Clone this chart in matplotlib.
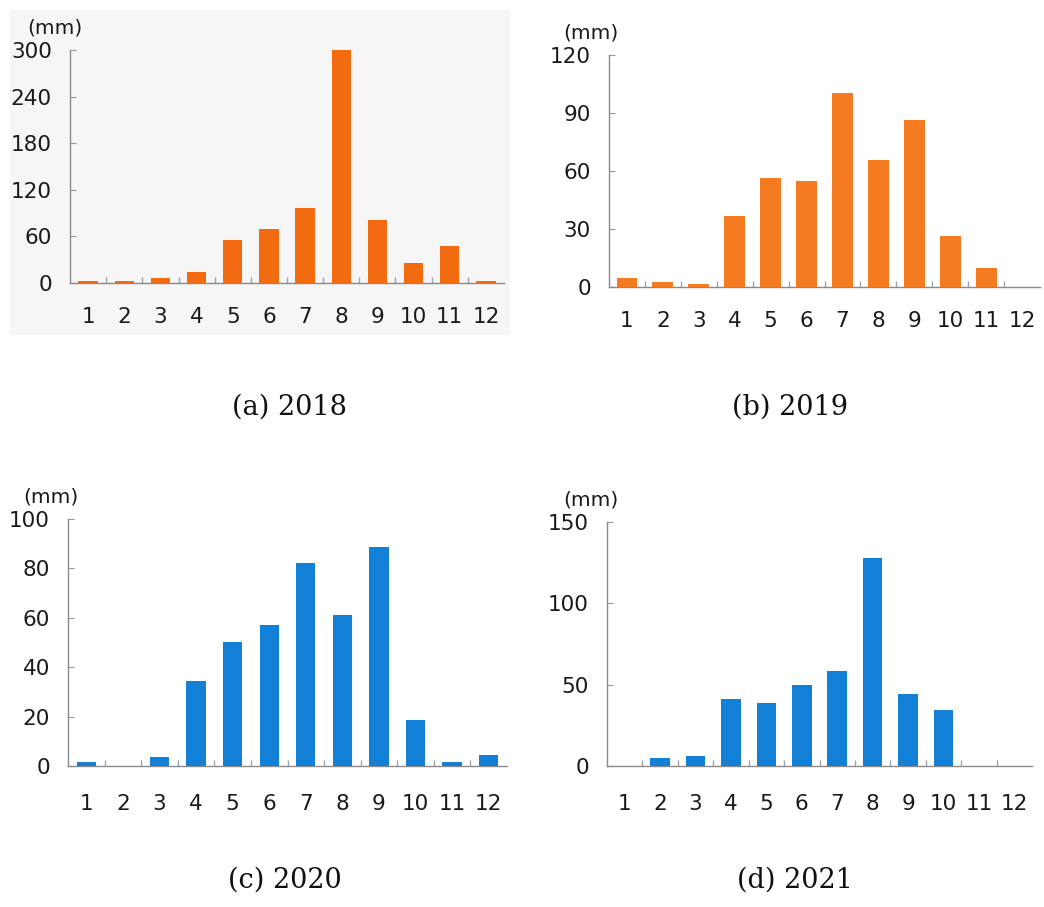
import matplotlib
matplotlib.use("Agg")
import matplotlib.pyplot as plt
from matplotlib.patches import Rectangle
import numpy as np

months = ["1", "2", "3", "4", "5", "6", "7", "8", "9", "10", "11", "12"]
rain_2018 = [3, 3, 7, 14, 55, 69, 97, 300, 81, 26, 47, 3]
rain_2019 = [4.7, 2.4, 1.5, 36.6, 56.5, 55, 100.5, 65.6, 86.3, 26.4, 9.8, 0]
rain_2020 = [1.5, 0, 3.5, 34.5, 50.4, 57, 82.3, 61.2, 88.5, 18.8, 1.5, 4.6]
rain_2021 = [0, 5.1, 5.9, 41.2, 38.7, 49.6, 58.2, 128, 44, 34.2, 0, 0]

yticks_a = [0, 60, 120, 180, 240, 300]
yticks_b = [0, 30, 60, 90, 120]
yticks_c = [0, 20, 40, 60, 80, 100]
yticks_d = [0, 50, 100, 150]

captions = ["(a) 2018", "(b) 2019", "(c) 2020", "(d) 2021"]

W, H = 1044, 907
fig = plt.figure(figsize=(W / 100, H / 100), dpi=100)

# light gray panel behind (a)
bg = Rectangle((10 / W, 1 - 335 / H), 500 / W, 325 / H,
               transform=fig.transFigure, facecolor="#f6f6f6",
               edgecolor="none", zorder=-5)
fig.add_artist(bg)

def px_axes(left, right, top, bottom):
    return [left / W, 1 - bottom / H, (right - left) / W, (bottom - top) / H]

panels = [
    (px_axes(70, 504, 50, 283), rain_2018, yticks_a, "#F26B10", (27, 28), (290, 407), 17, 0.53),
    (px_axes(609, 1040, 55, 287), rain_2019, yticks_b, "#F47B20", (563, 33), (790, 407), 17, 0.58),
    (px_axes(68, 507, 519, 766), rain_2020, yticks_c, "#1380D8", (23, 497), (285, 880), 20, 0.53),
    (px_axes(607, 1032, 522, 766), rain_2021, yticks_d, "#1380D8", (563, 500), (795, 880), 20, 0.55),
]

x = np.arange(len(months))
for (rect, vals, yt, col, mmpos, cappos, xpad, bw), cap in zip(panels, captions):
    ax = fig.add_axes(rect)
    ax.set_zorder(2)
    ax.patch.set_alpha(0)
    ax.bar(x, vals, width=bw, color=col, zorder=3)
    ax.set_xlim(-0.5, 11.5)
    ax.set_ylim(0, yt[-1])
    ax.set_yticks(yt)
    ax.set_yticklabels([str(v) for v in yt])
    ax.set_xticks(x)
    ax.set_xticklabels(months)
    ax.set_xticks(np.arange(0.5, 11.5, 1.0), minor=True)
    for s in ["top", "right"]:
        ax.spines[s].set_visible(False)
    for s in ["left", "bottom"]:
        ax.spines[s].set_color("#8a8a8a")
        ax.spines[s].set_linewidth(1.0)
    ax.tick_params(axis="x", which="major", length=0, pad=xpad, labelsize=15.5,
                   labelcolor="#1a1a1a")
    ax.tick_params(axis="x", which="minor", length=4, direction="in",
                   color="#9aa4b0", width=1.0)
    ax.tick_params(axis="y", which="major", length=4, direction="in",
                   color="#9a9a9a", pad=13, labelsize=15.5, labelcolor="#1a1a1a")
    fig.text(mmpos[0] / W, 1 - mmpos[1] / H, "(mm)", fontsize=14.5,
             color="#1a1a1a", ha="left", va="center")
    fig.text(cappos[0] / W, 1 - cappos[1] / H, cap, fontsize=19.5,
             family="DejaVu Serif", color="#111111", ha="center", va="center")

fig.savefig("out.png", dpi=100, facecolor="white")
